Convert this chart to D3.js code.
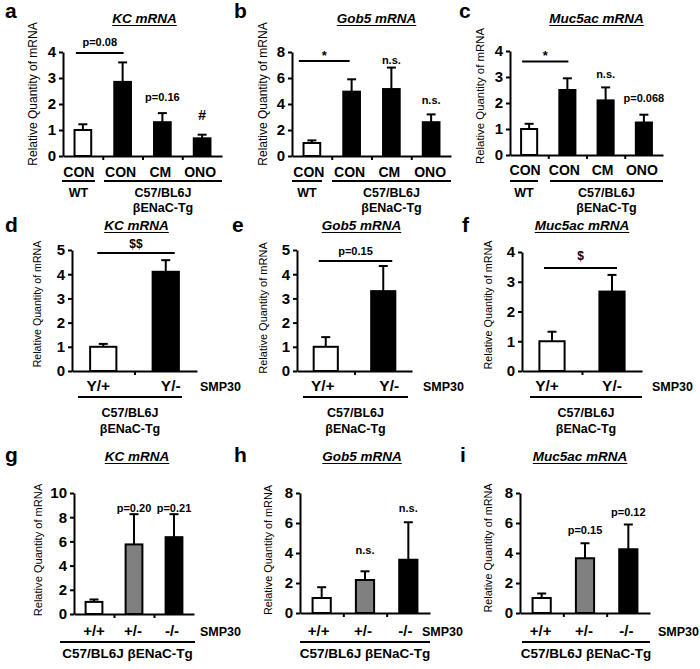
<!DOCTYPE html>
<html><head><meta charset="utf-8">
<script src="https://cdn.jsdelivr.net/npm/d3@7"></script>
<style>
body{margin:0;background:#fff}
svg{display:block}
text{font-family:"Liberation Sans",Arial,sans-serif;fill:#000}
</style>
</head><body>
<svg id="chart" width="700" height="669"></svg>
<script>
// ---------------- data ----------------
const treatCats = ["CON", "CON", "CM", "ONO"];
const smpCats = ["Y/+", "Y/-"];
const genoCats = ["+/+", "+/-", "-/-"];

const kcTreat = [1.0, 2.85, 1.3, 0.68];
const kcTreatErr = [0.22, 0.75, 0.35, 0.14];
const gob5Treat = [1.0, 4.95, 5.15, 2.6];
const gob5TreatErr = [0.2, 0.95, 1.65, 0.6];
const muc5acTreat = [1.0, 2.5, 2.1, 1.25];
const muc5acTreatErr = [0.2, 0.45, 0.5, 0.3];

const kcSmp = [1.0, 4.1];
const kcSmpErr = [0.12, 0.48];
const gob5Smp = [1.0, 3.3];
const gob5SmpErr = [0.4, 1.04];
const muc5acSmp = [1.0, 2.67];
const muc5acSmpErr = [0.32, 0.56];

const kcGeno = [1.0, 5.75, 6.35];
const kcGenoErr = [0.2, 2.5, 1.9];
const gob5Geno = [1.0, 2.2, 3.55];
const gob5GenoErr = [0.72, 0.58, 2.5];
const muc5acGeno = [1.0, 3.65, 4.25];
const muc5acGenoErr = [0.3, 1.0, 1.65];

const ticks4 = [0, 1, 2, 3, 4];
const ticks5 = [0, 1, 2, 3, 4, 5];
const ticks8 = [0, 2, 4, 6, 8];
const ticks10 = [0, 2, 4, 6, 8, 10];

const treatFills = ["#fff", "#000", "#000", "#000"];
const smpFills = ["#fff", "#000"];
const genoFills = ["#fff", "#808080", "#000"];

const yLabel = "Relative Quantity of mRNA";
const strainLines = ["C57/BL6J", "βENaC-Tg"];
const strainOneLine = ["C57/BL6J βENaC-Tg"];

// ---------------- layout ----------------
const FONT_TICK = 15;
const panels = [
  {letter:"a", lx:5, ly:18, title:"KC mRNA", tY:23, titleDx:2, cats:treatCats, vals:kcTreat, errs:kcTreatErr, fills:treatFills,
   ticks:ticks4, ax:63, axEnd:222, yTop:52, y0:156, ylx:33, yly:94, ylSize:12, xlabY:177, xlabSize:14, labDx:[-4,-2,-2,-2],
   groups:[{lines:["WT"], x1:62, x2:95}, {lines:strainLines, x1:104, x2:222}], gY:181, gY1:197, gDy:15, gSize:12.5,
   bracket:{from:0,to:1,dx0:-7,dx1:1,v:3.96,text:"p=0.08",ty:-7,size:11},
   notes:[{i:2,text:"p=0.16",dy:12,size:11},{i:3,text:"#",dy:15,size:14}]},
  {letter:"b", lx:234, ly:18, title:"Gob5 mRNA", tY:23, titleDx:5, cats:treatCats, vals:gob5Treat, errs:gob5TreatErr, fills:treatFills,
   ticks:ticks8, ax:292, axEnd:451, yTop:52, y0:156, ylx:263, yly:94, ylSize:12, xlabY:177, xlabSize:14, labDx:[-3,-2,-2,-1],
   groups:[{lines:["WT"], x1:292, x2:322}, {lines:strainLines, x1:332, x2:451}], gY:181, gY1:197, gDy:15, gSize:12.5,
   bracket:{from:0,to:1,dx0:-13,dx1:-2,v:7.3,text:"*",ty:-1,size:13},
   notes:[{i:2,text:"n.s.",dy:4,size:11},{i:3,text:"n.s.",dy:10,size:11}]},
  {letter:"c", lx:459, ly:18, title:"Muc5ac mRNA", tY:23, titleDx:10, cats:treatCats, vals:muc5acTreat, errs:muc5acTreatErr, fills:treatFills,
   ticks:ticks4, ax:510, axEnd:663, yTop:51, y0:155, ylx:480, yly:96, ylSize:11.4, xlabY:175, xlabSize:14, labDx:[-4,-3,-3,-2],
   groups:[{lines:["WT"], x1:510, x2:538}, {lines:strainLines, x1:550, x2:663}], gY:181, gY1:197, gDy:15, gSize:12.5,
   bracket:{from:0,to:1,dx0:-7,dx1:1,v:3.6,text:"*",ty:-1,size:13},
   notes:[{i:2,text:"n.s.",dy:9,size:11},{i:3,text:"p=0.068",dy:13,size:11}]},

  {letter:"d", lx:5, ly:232, title:"KC mRNA", tY:230, titleDx:2, cats:smpCats, vals:kcSmp, errs:kcSmpErr, fills:smpFills,
   ticks:ticks5, ax:72, axEnd:197, yTop:250, y0:371, ylx:37, yly:304, ylSize:10.6, xlabY:391, xlabSize:15.5, labDx:[-5,5],
   smp:{x:200,y:391}, groups:[{lines:strainLines, x1:78, x2:182}], gY:397, gY1:417, gDy:16, gSize:12.5,
   bracket:{from:0,to:1,dx0:-6,dx1:9,v:4.88,text:"$$",ty:-5,size:12},
   notes:[]},
  {letter:"e", lx:232, ly:232, title:"Gob5 mRNA", tY:230, titleDx:7, cats:smpCats, vals:gob5Smp, errs:gob5SmpErr, fills:smpFills,
   ticks:ticks5, ax:297, axEnd:412, yTop:250, y0:371, ylx:263, yly:308, ylSize:11, xlabY:391, xlabSize:15.5, labDx:[-3,6],
   smp:{x:423,y:391}, groups:[{lines:strainLines, x1:303, x2:408}], gY:397, gY1:417, gDy:16, gSize:12.5,
   bracket:{from:0,to:1,dx0:-7,dx1:9,v:4.55,text:"p=0.15",ty:-6,size:11},
   notes:[]},
  {letter:"f", lx:462, ly:232, title:"Muc5ac mRNA", tY:230, titleDx:0, cats:smpCats, vals:muc5acSmp, errs:muc5acSmpErr, fills:smpFills,
   ticks:ticks4, ax:522, axEnd:642, yTop:252, y0:371, ylx:488, yly:305, ylSize:10.8, xlabY:391, xlabSize:15.5, labDx:[-5,0],
   smp:{x:652,y:391}, groups:[{lines:strainLines, x1:530, x2:642}], gY:397, gY1:417, gDy:16, gSize:12.5,
   bracket:{from:0,to:1,dx0:-8,dx1:5,v:3.46,text:"$",ty:-8,size:12},
   notes:[]},

  {letter:"g", lx:5, ly:462, title:"KC mRNA", tY:461, titleDx:3, cats:genoCats, vals:kcGeno, errs:kcGenoErr, fills:genoFills,
   ticks:ticks10, ax:74, axEnd:194, yTop:493, y0:614, ylx:38, yly:550, ylSize:11.1, xlabY:636, xlabSize:15, labDx:[0,-1,-2],
   smp:{x:200,y:636}, groups:[{lines:strainOneLine, x1:60, x2:195}], gY:642, gY1:658, gDy:0, gSize:13.5,
   bracket:null,
   notes:[{i:1,text:"p=0.20",dy:2,size:11},{i:2,text:"p=0.21",dy:2,size:11}]},
  {letter:"h", lx:234, ly:462, title:"Gob5 mRNA", tY:461, titleDx:-3, cats:genoCats, vals:gob5Geno, errs:gob5GenoErr, fills:genoFills,
   ticks:ticks8, ax:300, axEnd:430, yTop:493, y0:613, ylx:268, yly:550, ylSize:10.9, xlabY:636, xlabSize:15, labDx:[-3,-2,-3],
   smp:{x:422,y:636}, groups:[{lines:strainOneLine, x1:300, x2:430}], gY:642, gY1:658, gDy:0, gSize:13.5,
   bracket:null,
   notes:[{i:1,text:"n.s.",dy:17,size:11},{i:2,text:"n.s.",dy:10,size:11}]},
  {letter:"i", lx:460, ly:462, title:"Muc5ac mRNA", tY:461, titleDx:-5, cats:genoCats, vals:muc5acGeno, errs:muc5acGenoErr, fills:genoFills,
   ticks:ticks8, ax:520, axEnd:650, yTop:493, y0:613, ylx:488, yly:548, ylSize:10.8, xlabY:636, xlabSize:15, labDx:[-1,-1,-2],
   smp:{x:658,y:636}, groups:[{lines:strainOneLine, x1:522, x2:650}], gY:642, gY1:658, gDy:0, gSize:13.5,
   bracket:null,
   notes:[{i:1,text:"p=0.15",dy:9,size:11},{i:2,text:"p=0.12",dy:9,size:11}]}
];

const svg = d3.select("#chart");
svg.append("rect").attr("width",700).attr("height",669).attr("fill","#fff");

panels.forEach(p => {
  const g = svg.append("g");
  const n = p.cats.length;
  const idx = d3.range(n);
  const x = d3.scaleBand().domain(idx).range([p.ax, p.axEnd]).paddingInner(0.58).paddingOuter(0.29);
  const xl = d3.scaleLinear().domain([0, n]).range([p.ax, p.axEnd]);
  const ymax = p.ticks[p.ticks.length - 1];
  const y = d3.scaleLinear().domain([0, ymax]).range([p.y0, p.yTop]);
  const cx = i => x(i) + x.bandwidth() / 2;

  // panel letter
  g.append("text").attr("x", p.lx).attr("y", p.ly).attr("font-size", 21).attr("font-weight", "bold").text(p.letter);

  // title with underline
  const tcx = (p.ax + p.axEnd) / 2 + (p.titleDx || 0);
  const tY = p.tY;
  const t = g.append("text").attr("x", tcx).attr("y", tY).attr("text-anchor", "middle")
    .attr("font-size", 13.5).attr("font-weight", "bold").attr("font-style", "italic").text(p.title);
  const tw = t.node().getComputedTextLength();
  g.append("line").attr("x1", tcx - tw / 2).attr("x2", tcx + tw / 2).attr("y1", tY + 2.5).attr("y2", tY + 2.5)
    .attr("stroke", "#000").attr("stroke-width", 1.2);

  // y axis label
  g.append("text").attr("transform", `translate(${p.ylx},${p.yly}) rotate(-90)`).attr("text-anchor", "middle")
    .attr("dy", "0.35em").attr("font-size", p.ylSize).text(yLabel);

  // bars
  g.selectAll("rect.bar").data(p.vals).join("rect").attr("class", "bar")
    .attr("x", (d, i) => x(i)).attr("width", x.bandwidth())
    .attr("y", d => y(d)).attr("height", d => p.y0 - y(d))
    .attr("fill", (d, i) => p.fills[i]).attr("stroke", "#000").attr("stroke-width", 2);

  // error bars
  const eg = g.selectAll("g.err").data(p.vals).join("g").attr("class", "err");
  eg.append("line").attr("x1", (d, i) => cx(i)).attr("x2", (d, i) => cx(i))
    .attr("y1", d => y(d)).attr("y2", (d, i) => y(d + p.errs[i])).attr("stroke", "#000").attr("stroke-width", 2);
  eg.append("line").attr("x1", (d, i) => cx(i) - 4.5).attr("x2", (d, i) => cx(i) + 4.5)
    .attr("y1", (d, i) => y(d + p.errs[i])).attr("y2", (d, i) => y(d + p.errs[i])).attr("stroke", "#000").attr("stroke-width", 2);

  // y axis
  const ya = g.append("g").attr("transform", `translate(${p.ax},0)`)
    .call(d3.axisLeft(y).tickValues(p.ticks).tickFormat(d3.format("d")).tickSize(4).tickSizeOuter(0).tickPadding(3));
  ya.select(".domain").attr("stroke-width", 2);
  ya.selectAll(".tick line").attr("stroke-width", 2);
  ya.selectAll(".tick text").attr("font-size", FONT_TICK).attr("font-weight", "bold")
    .attr("font-family", '"Liberation Sans",Arial,sans-serif').attr("fill", "#000");

  // x axis (ticks between categories)
  const xa = g.append("g").attr("transform", `translate(0,${p.y0})`)
    .call(d3.axisBottom(xl).tickValues(d3.range(1, n)).tickFormat("").tickSize(4).tickSizeOuter(0));
  xa.select(".domain").attr("stroke-width", 2);
  xa.selectAll(".tick line").attr("stroke-width", 2);

  // x labels
  g.selectAll("text.xlab").data(p.cats).join("text").attr("class", "xlab")
    .attr("x", (d, i) => cx(i) + p.labDx[i]).attr("y", p.xlabY).attr("text-anchor", "middle")
    .attr("font-size", p.xlabSize).attr("font-weight", "bold").text(d => d);

  if (p.smp) {
    g.append("text").attr("x", p.smp.x).attr("y", p.smp.y).attr("font-size", 12.5).attr("font-weight", "bold").text("SMP30");
  }

  // groups
  p.groups.forEach(gr => {
    g.append("line").attr("x1", gr.x1).attr("x2", gr.x2).attr("y1", p.gY).attr("y2", p.gY)
      .attr("stroke", "#000").attr("stroke-width", 2);
    const mx = (gr.x1 + gr.x2) / 2;
    gr.lines.forEach((ln, k) => {
      g.append("text").attr("x", mx).attr("y", p.gY1 + k * p.gDy).attr("text-anchor", "middle")
        .attr("font-size", p.gSize).attr("font-weight", "bold").text(ln);
    });
  });

  // bracket
  if (p.bracket) {
    const b = p.bracket;
    const bx1 = cx(b.from) + b.dx0, bx2 = cx(b.to) + b.dx1, by = y(b.v);
    g.append("line").attr("x1", bx1).attr("x2", bx2).attr("y1", by).attr("y2", by)
      .attr("stroke", "#000").attr("stroke-width", 2);
    g.append("text").attr("x", (bx1 + bx2) / 2).attr("y", by + b.ty).attr("text-anchor", "middle")
      .attr("font-size", b.size).attr("font-weight", "bold").text(b.text);
  }

  // notes above bars
  p.notes.forEach(nt => {
    g.append("text").attr("x", cx(nt.i)).attr("y", y(p.vals[nt.i] + p.errs[nt.i]) - nt.dy)
      .attr("text-anchor", "middle").attr("font-size", nt.size).attr("font-weight", "bold").text(nt.text);
  });
});
</script>
</body></html>
